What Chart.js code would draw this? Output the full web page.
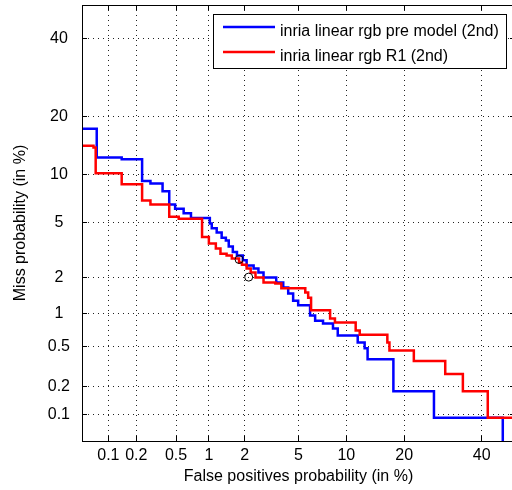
<!DOCTYPE html>
<html lang="en">
<head>
<meta charset="UTF-8">
<script src="https://cdn.jsdelivr.net/npm/chart.js@4.4.1/dist/chart.umd.min.js"></script>
<title>DET curve</title>
<style>
  html, body { margin: 0; padding: 0; overflow: hidden; background: #fff; }
  canvas { display: block; }
</style>
</head>
<body>
<canvas id="det" width="520" height="490"></canvas>
<script>
// values in percent
const tickValues = [0.1, 0.2, 0.5, 1, 2, 5, 10, 20, 40];
const tickLabels = ['0.1', '0.2', '0.5', '1', '2', '5', '10', '20', '40'];

const blueLabel = 'inria linear rgb pre model (2nd)';
const blueFp = [0.05, 0.074, 0.14, 0.23, 0.28, 0.37, 0.43, 0.49, 0.59, 0.69, 1.02, 1.06, 1.17, 1.29, 1.40, 1.48, 1.60, 1.73, 1.93, 2.07, 2.35, 2.56, 2.80, 3.48, 3.91, 4.24, 4.59, 4.97, 5.97, 6.44, 7.23, 8.33, 8.9, 11.6, 12.66, 13.13, 17.77, 26.9, 46.3];
const blueMiss = [17.5, 12.5, 12.2, 9.2, 8.9, 8.0, 6.6, 6.2, 5.8, 5.4, 4.95, 4.6, 4.3, 3.95, 3.78, 3.42, 3.12, 2.93, 2.70, 2.46, 2.34, 2.18, 1.99, 1.81, 1.65, 1.47, 1.28, 1.17, 0.955, 0.86, 0.81, 0.73, 0.63, 0.544, 0.48, 0.375, 0.178, 0.092, 0.01];

const redLabel = 'inria linear rgb R1 (2nd)';
const redFp = [0.05, 0.068, 0.072, 0.14, 0.23, 0.28, 0.43, 0.53, 0.87, 1.0, 1.15, 1.26, 1.42, 1.57, 1.80, 1.9, 2.07, 2.23, 2.43, 2.8, 3.43, 3.79, 5.55, 5.8, 6.06, 8.0, 8.56, 11.3, 11.9, 16.6, 17.0, 22.1, 29.8, 34.6, 41.8, 50];
const redMiss = [14.4, 14.1, 10.2, 8.8, 7.0, 6.6, 5.5, 5.33, 4.0, 3.59, 3.31, 3.03, 2.93, 2.79, 2.6, 2.5, 2.34, 2.18, 1.99, 1.81, 1.78, 1.63, 1.5, 1.36, 1.06, 0.9, 0.83, 0.70, 0.64, 0.544, 0.457, 0.36, 0.268, 0.178, 0.092, 0.092];

const markerFp = [1.80, 2.15];
const markerMiss = [2.74, 2.0];

const axisMin = 0.05, axisMax = 50;

// inverse normal cdf (Acklam)
function probit(p) {
    const a = [-39.69683028665376, 220.9460984245205, -275.9285104469687, 138.3577518672690, -30.66479806614716, 2.506628277459239];
    const b = [-54.47609879822406, 161.5858368580409, -155.6989798598866, 66.80131188771972, -13.28068155288572];
    const c = [-0.007784894002430293, -0.3223964580411365, -2.400758277161838, -2.549732539343734, 4.374664141464968, 2.938163982698783];
    const d = [0.007784695709041462, 0.3224671290700398, 2.445134137142996, 3.754408661907416];
    const pl = 0.02425;
    if (p < pl) {
        const q = Math.sqrt(-2 * Math.log(p));
        return (((((c[0] * q + c[1]) * q + c[2]) * q + c[3]) * q + c[4]) * q + c[5]) / ((((d[0] * q + d[1]) * q + d[2]) * q + d[3]) * q + 1);
    }
    if (p <= 1 - pl) {
        const q = p - 0.5, r = q * q;
        return (((((a[0] * r + a[1]) * r + a[2]) * r + a[3]) * r + a[4]) * r + a[5]) * q / (((((b[0] * r + b[1]) * r + b[2]) * r + b[3]) * r + b[4]) * r + 1);
    }
    const q = Math.sqrt(-2 * Math.log(1 - p));
    return -(((((c[0] * q + c[1]) * q + c[2]) * q + c[3]) * q + c[4]) * q + c[5]) / ((((d[0] * q + d[1]) * q + d[2]) * q + d[3]) * q + 1);
}
const toZ = pct => probit(pct / 100);
const points = (xs, ys) => xs.map((v, i) => ({ x: toZ(v), y: toZ(ys[i]) }));

const FONT = '"Liberation Sans", Arial, sans-serif';
const TICK = 5;

// box, inward ticks and legend like matlab
const frame = {
    id: 'frame',
    afterDraw(chart) {
        const { ctx, chartArea: a, scales: { x, y } } = chart;
        const al = v => Math.round(v - 0.5) + 0.5;
        ctx.save();
        ctx.strokeStyle = '#000';
        ctx.lineWidth = 1;
        ctx.strokeRect(al(a.left), al(a.top), Math.round(a.right - a.left), Math.round(a.bottom - a.top));
        ctx.beginPath();
        x.ticks.forEach(t => {
            const px = al(x.getPixelForValue(t.value));
            ctx.moveTo(px, a.top); ctx.lineTo(px, a.top + TICK);
            ctx.moveTo(px, a.bottom); ctx.lineTo(px, a.bottom - TICK);
        });
        y.ticks.forEach(t => {
            const py = al(y.getPixelForValue(t.value));
            ctx.moveTo(a.left, py); ctx.lineTo(a.left + TICK, py);
            ctx.moveTo(a.right, py); ctx.lineTo(a.right - TICK, py);
        });
        ctx.stroke();

        // legend
        const items = chart.data.datasets.filter(ds => ds.label);
        ctx.font = '16px ' + FONT;
        const tw = Math.max(...items.map(ds => ctx.measureText(ds.label).width));
        const bw = 10 + 52 + 5 + tw + 7, bh = 54;
        const bx = Math.round(a.right - 9 - bw), by = Math.round(a.top + 9);
        ctx.fillStyle = '#fff';
        ctx.fillRect(bx, by, bw, bh);
        ctx.strokeStyle = '#000';
        ctx.lineWidth = 1;
        ctx.strokeRect(bx + 0.5, by + 0.5, Math.round(bw), bh);
        items.forEach((ds, i) => {
            const ly = by + 13 + i * 25;
            ctx.strokeStyle = ds.borderColor;
            ctx.lineWidth = 2.5;
            ctx.beginPath();
            ctx.moveTo(bx + 10, ly); ctx.lineTo(bx + 62, ly);
            ctx.stroke();
            ctx.fillStyle = '#000';
            ctx.textBaseline = 'alphabetic';
            ctx.fillText(ds.label, bx + 67, ly + 9);
        });
        ctx.restore();
    }
};

const axisCommon = {
    type: 'linear',
    min: toZ(axisMin),
    max: toZ(axisMax),
    afterBuildTicks: s => { s.ticks = tickValues.map(v => ({ value: toZ(v) })); },
    grid: { color: '#222', lineWidth: 1, drawTicks: false },
    border: { display: true, color: '#000', width: 1, dash: [1, 4] }
};

new Chart(document.getElementById('det'), {
    type: 'line',
    data: {
        datasets: [{
            label: blueLabel,
            data: points(blueFp, blueMiss),
            borderColor: '#0000ff',
            borderWidth: 2.5,
            stepped: 'before',
            pointRadius: 0,
            fill: false,
            order: 2
        }, {
            label: redLabel,
            data: points(redFp, redMiss),
            borderColor: '#ff0000',
            borderWidth: 2.5,
            stepped: 'before',
            pointRadius: 0,
            fill: false,
            order: 1
        }, {
            data: points(markerFp, markerMiss),
            showLine: false,
            pointRadius: 4,
            pointBorderWidth: 1,
            pointBorderColor: '#000',
            pointBackgroundColor: 'rgba(0,0,0,0)',
            order: 0
        }]
    },
    options: {
        responsive: false,
        animation: false,
        events: [],
        layout: { padding: { left: 0, top: 4, right: 2, bottom: 0 } },
        plugins: { legend: { display: false }, tooltip: { enabled: false } },
        scales: {
            x: {
                ...axisCommon,
                afterFit: s => { s.height = 49; s.paddingLeft = 0; s.paddingRight = 0; },
                ticks: {
                    autoSkip: false, maxRotation: 0, padding: 5, color: '#000',
                    font: { family: FONT, size: 16 },
                    callback: (v, i) => tickLabels[i]
                },
                title: {
                    display: true, text: 'False positives probability (in %)', color: '#000',
                    font: { family: FONT, size: 16 }, padding: { top: 0, bottom: 4 }
                }
            },
            y: {
                ...axisCommon,
                afterFit: s => { s.width = 82; s.paddingTop = 0; s.paddingBottom = 0; },
                ticks: {
                    autoSkip: false, padding: 12, crossAlign: 'center', color: '#000',
                    font: { family: FONT, size: 16 },
                    callback: (v, i) => tickLabels[i]
                },
                title: {
                    display: true, text: 'Miss probability (in %)', color: '#000',
                    font: { family: FONT, size: 16 }, padding: { top: 11, bottom: 0 }
                }
            }
        }
    },
    plugins: [frame]
});
</script>
</body>
</html>
